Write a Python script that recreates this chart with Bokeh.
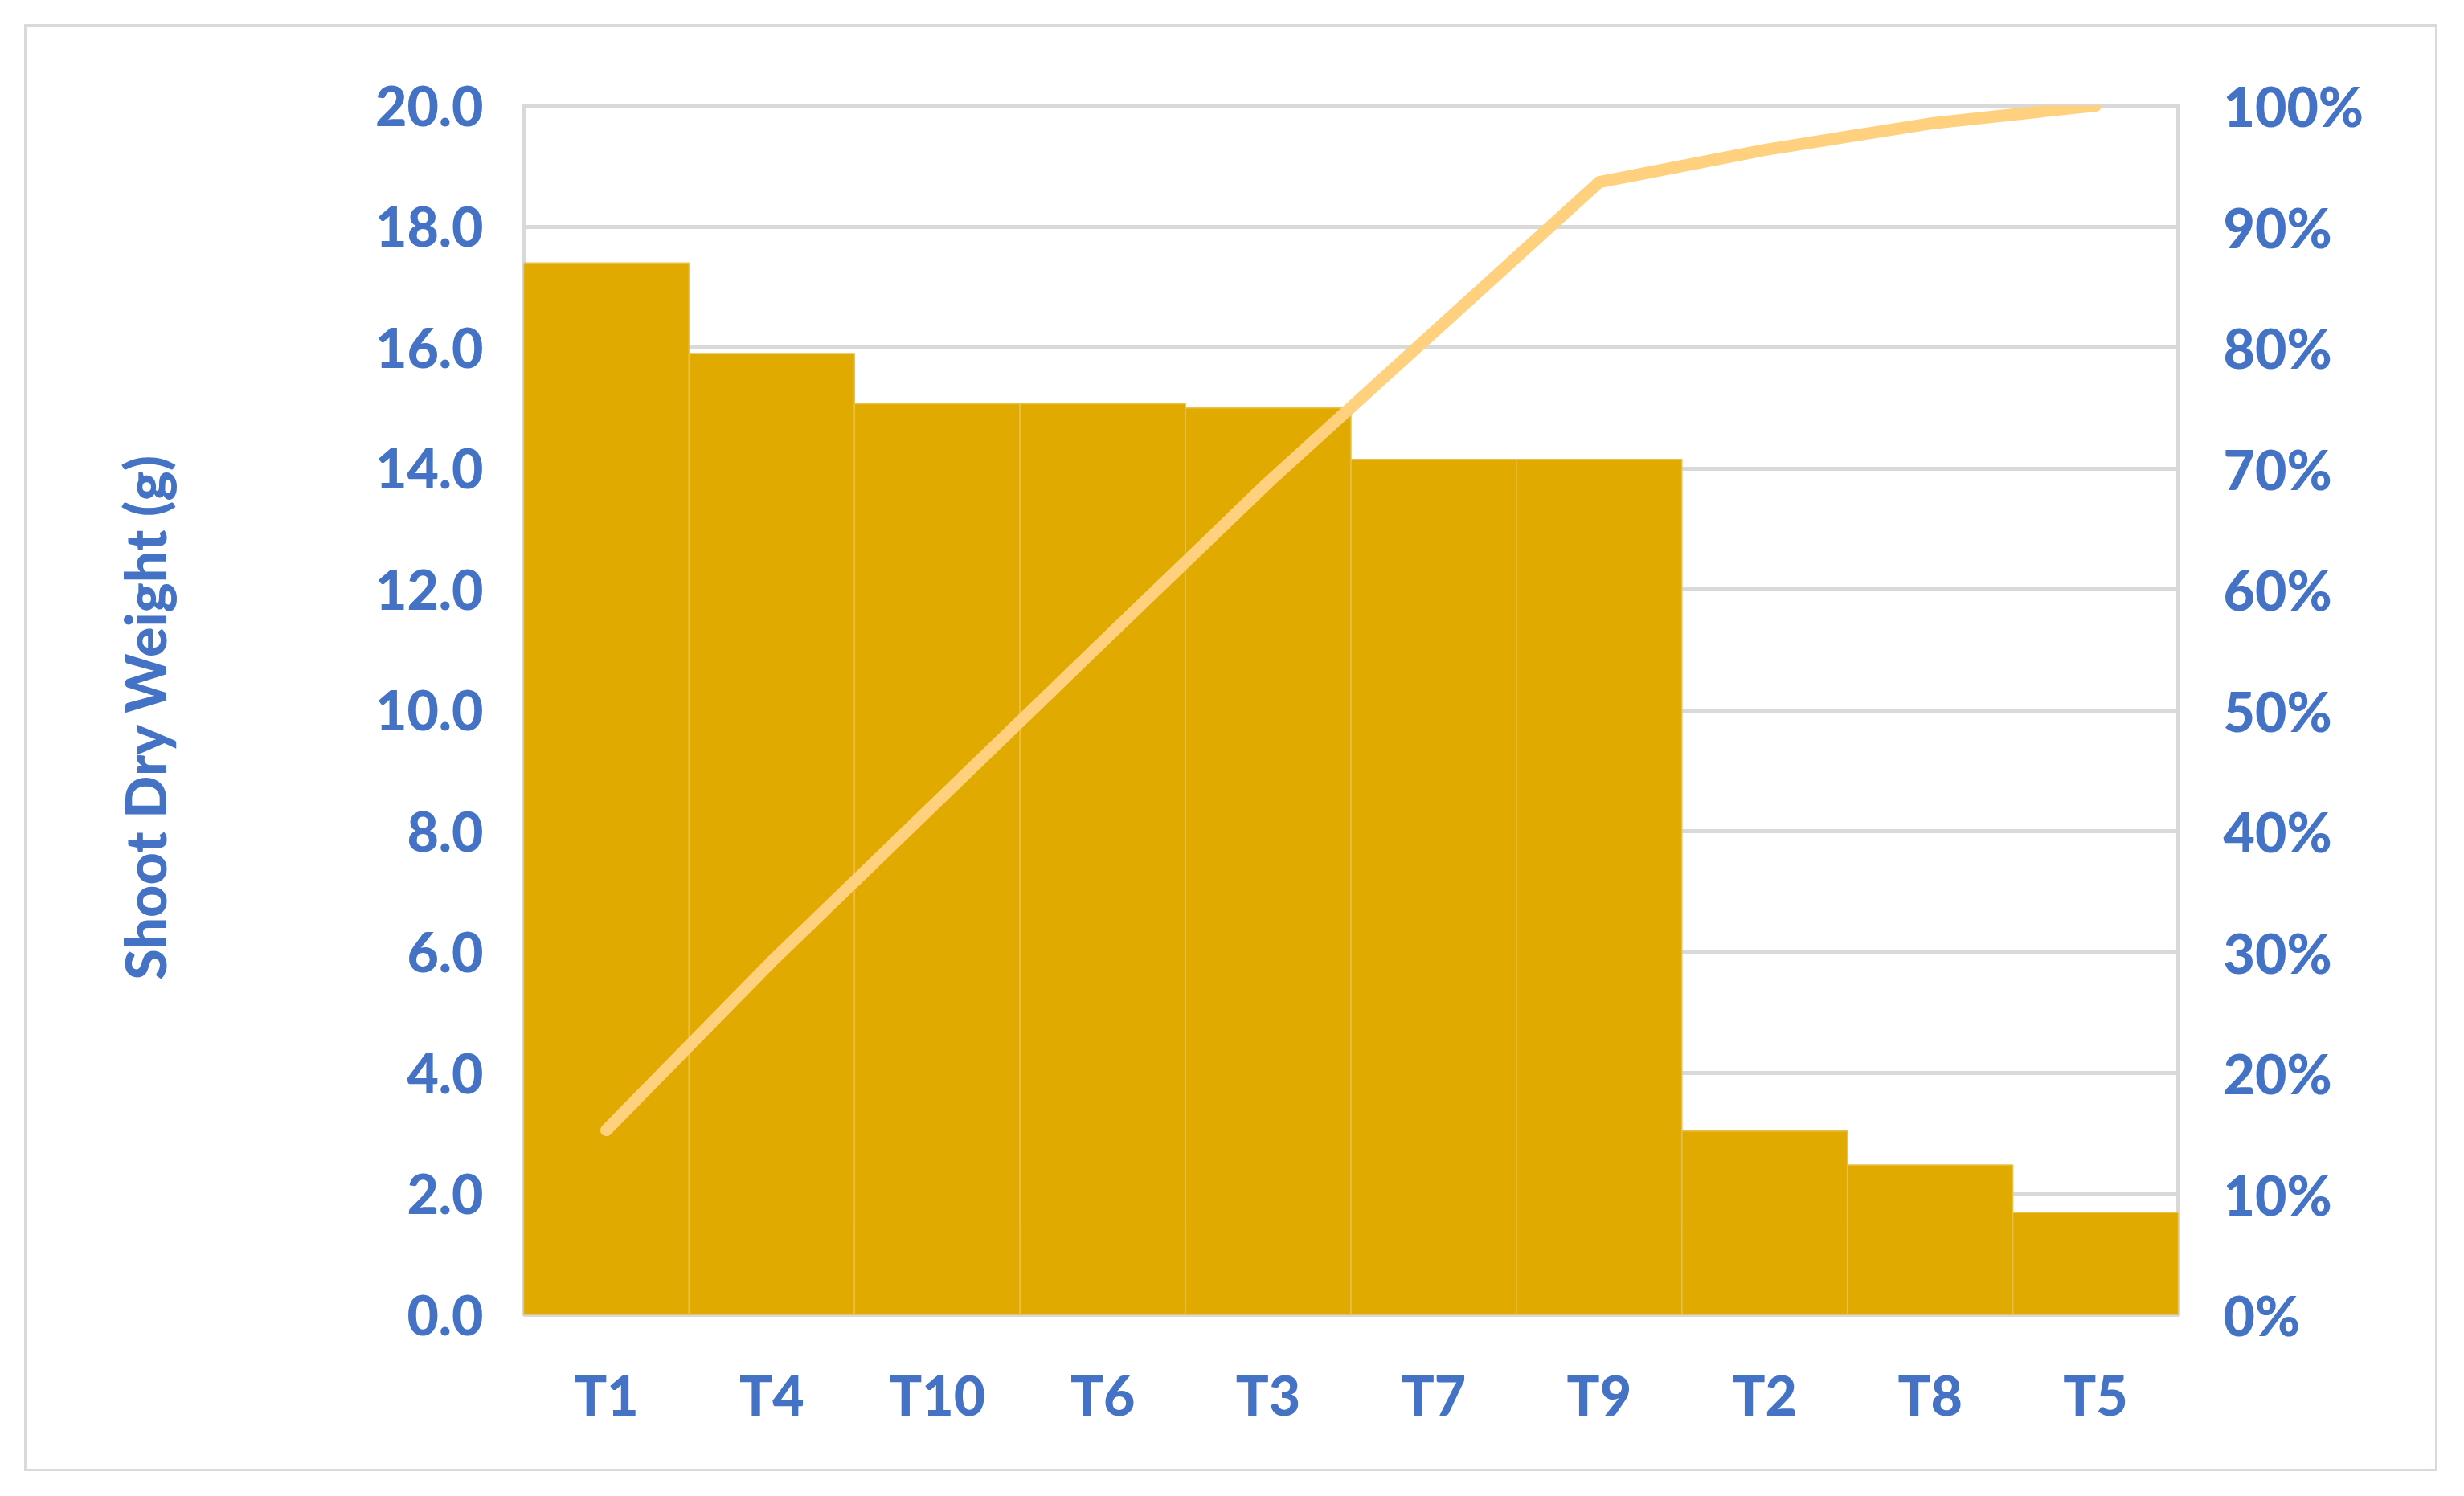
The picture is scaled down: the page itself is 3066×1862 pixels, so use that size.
from bokeh.plotting import figure
from bokeh.models import Range1d, LinearAxis, FixedTicker, NumeralTickFormatter, ColumnDataSource
from bokeh.embed import file_html
from bokeh.resources import INLINE

categories = ["T1", "T4", "T10", "T6", "T3", "T7", "T9", "T2", "T8", "T5"]
shoot_dry_weight = [17.4, 15.9, 15.07, 15.07, 15.0, 14.15, 14.15, 3.04, 2.48, 1.69]
left_ticks = [0, 2, 4, 6, 8, 10, 12, 14, 16, 18, 20]
right_ticks = [0.0, 0.1, 0.2, 0.3, 0.4, 0.5, 0.6, 0.7, 0.8, 0.9, 1.0]
y_title = "Shoot Dry Weight  (g)"

total = sum(shoot_dry_weight)
cumulative = []
running = 0.0
for v in shoot_dry_weight:
    running += v
    cumulative.append(running / total)

src = ColumnDataSource(dict(cat=categories, val=shoot_dry_weight, cum=cumulative))

BLUE = "#4472C4"
FONT = "Lato Black"
FS = "68px"

W, H = 2997, 1795
p = figure(width=W, height=H, x_range=categories, y_range=Range1d(0, 20),
           output_backend="svg", toolbar_location=None,
           min_border_left=618, min_border_right=320, min_border_top=98, min_border_bottom=192)
p.styles = {"margin-left": "33px", "margin-top": "33px", "outline": "3px solid #D9D9D9"}
p.x_range.range_padding = 0
p.extra_y_ranges = {"pct": Range1d(0, 1)}

p.vbar(x="cat", top="val", width=1.0, source=src, fill_color="#E0AA00",
       line_color="#E9C04A", line_width=1.5)
p.line(x="cat", y="cum", source=src, y_range_name="pct", line_color="#FFD17F",
       line_width=15, line_cap="round", line_join="round")

p.xgrid.grid_line_color = None
p.ygrid.ticker = FixedTicker(ticks=left_ticks)
p.ygrid.grid_line_color = "#D9D9D9"
p.ygrid.grid_line_width = 5
p.outline_line_color = "#D9D9D9"
p.outline_line_width = 5
p.background_fill_color = "white"
p.border_fill_color = "white"

ax = p.yaxis[0]
ax.ticker = FixedTicker(ticks=left_ticks)
ax.formatter = NumeralTickFormatter(format="0.0")
ax.axis_label = y_title
ax.axis_label_standoff = 242

ax_r = LinearAxis(y_range_name="pct", ticker=FixedTicker(ticks=right_ticks),
                  formatter=NumeralTickFormatter(format="0%"))
p.add_layout(ax_r, "right")

for a in [p.xaxis[0], ax, ax_r]:
    a.axis_line_color = None
    a.major_tick_line_color = None
    a.minor_tick_line_color = None
    a.major_label_text_color = BLUE
    a.major_label_text_font = FONT
    a.major_label_text_font_style = "bold"
    a.major_label_text_font_size = FS
    a.axis_label_text_color = BLUE
    a.axis_label_text_font = FONT
    a.axis_label_text_font_style = "bold"
    a.axis_label_text_font_size = "70px"

ax.major_label_standoff = 44
ax_r.major_label_standoff = 50
p.xaxis[0].major_label_standoff = 52

open("out.html", "w").write(file_html(p, INLINE))
